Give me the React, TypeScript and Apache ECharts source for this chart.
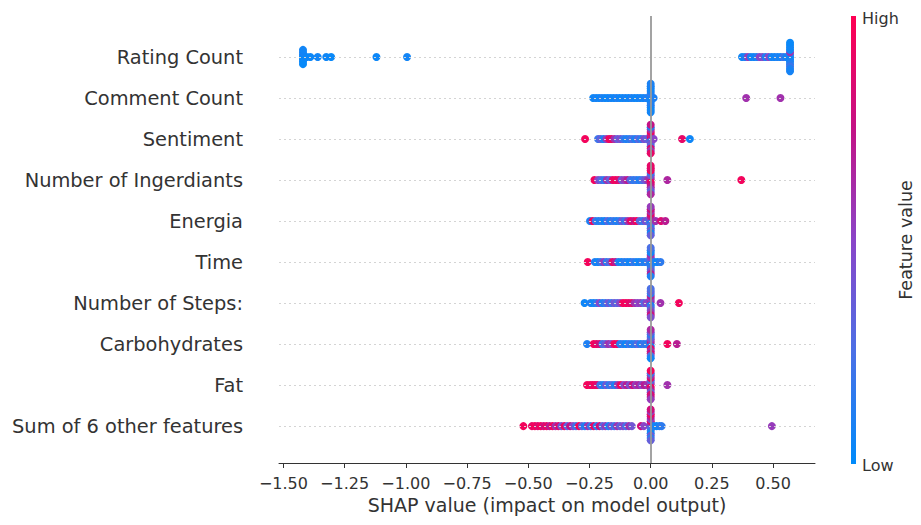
import React, { useEffect, useRef } from 'react';
import * as echarts from 'echarts';

// Feature names, bottom row (index 0) to top row (index 9)
const featureNames = [
  'Sum of 6 other features',
  'Fat',
  'Carbohydrates',
  'Number of Steps:',
  'Time',
  'Energia',
  'Number of Ingerdiants',
  'Sentiment',
  'Comment Count',
  'Rating Count',
];
const rowTicks = [0, 1, 2, 3, 4, 5, 6, 7, 8, 9];
const xTicks = [-1.5, -1.25, -1.0, -0.75, -0.5, -0.25, 0, 0.25, 0.5];

// [SHAP value, normalised feature value (0 = low, 1 = high)]
type P = [number, number];

const ratingCount: P[] = [
  [-1.42, 0.02], [-1.42, 0.05], [-1.42, 0.03], [-1.42, 0.08], [-1.42, 0.04], [-1.42, 0.06], [-1.42, 0.02],
  [-1.405, 0.05], [-1.39, 0.04], [-1.36, 0.06], [-1.325, 0.05], [-1.305, 0.03], [-1.12, 0.04], [-0.995, 0.06],
  [0.373, 0.05], [0.385, 0.1], [0.397, 0.55], [0.409, 0.08], [0.421, 0.05], [0.433, 0.1], [0.445, 0.5],
  [0.457, 0.45], [0.469, 0.1], [0.481, 0.5], [0.493, 0.08], [0.505, 0.05], [0.517, 0.1], [0.529, 0.06],
  [0.541, 0.2], [0.553, 0.08],
  [0.569, 0.05], [0.569, 0.1], [0.569, 0.03], [0.569, 0.6], [0.569, 0.08], [0.569, 0.05], [0.569, 0.12],
  [0.569, 0.04], [0.569, 0.2], [0.569, 0.06], [0.569, 0.1], [0.569, 0.03], [0.569, 0.07],
];

const commentCount: P[] = [
  [-0.235, 0.05], [-0.223, 0.08], [-0.211, 0.05], [-0.199, 0.1], [-0.187, 0.06], [-0.175, 0.05], [-0.163, 0.08],
  [-0.151, 0.05], [-0.139, 0.1], [-0.127, 0.06], [-0.115, 0.05], [-0.103, 0.08], [-0.091, 0.05], [-0.079, 0.1],
  [-0.067, 0.06], [-0.055, 0.05], [-0.043, 0.08], [-0.031, 0.05], [-0.019, 0.1],
  [0, 0.05], [0, 0.1], [0, 0.06], [0, 0.15], [0, 0.04], [0, 0.08], [0, 0.12],
  [0, 0.05], [0, 0.1], [0, 0.07], [0, 0.03], [0, 0.09], [0, 0.06],
  [0.012, 0.1], [0.39, 0.6], [0.53, 0.6],
];

const sentiment: P[] = [
  [-0.268, 0.95], [-0.215, 0.2], [-0.205, 0.35], [-0.193, 0.1], [-0.181, 0.55], [-0.17, 0.95], [-0.16, 0.9],
  [-0.148, 0.6], [-0.136, 0.35], [-0.124, 0.45], [-0.112, 0.2], [-0.1, 0.1], [-0.088, 0.15], [-0.076, 0.25],
  [-0.064, 0.1], [-0.052, 0.3], [-0.04, 0.15], [-0.028, 0.45], [-0.016, 0.35],
  [0, 0.5], [0, 0.9], [0, 0.2], [0, 0.7], [0, 0.4], [0, 0.95], [0, 0.3],
  [0, 0.6], [0, 0.85], [0, 0.1], [0, 0.55], [0, 0.75], [0, 0.9],
  [0.012, 0.5], [0.128, 0.9], [0.16, 0.05],
];

const ingredients: P[] = [
  [-0.23, 0.95], [-0.215, 0.5], [-0.203, 0.3], [-0.191, 0.15], [-0.179, 0.6], [-0.167, 0.35], [-0.155, 0.9],
  [-0.143, 0.95], [-0.131, 0.85], [-0.119, 0.4], [-0.107, 0.55], [-0.095, 0.7], [-0.083, 0.3], [-0.071, 0.15],
  [-0.059, 0.2], [-0.047, 0.1], [-0.035, 0.25], [-0.023, 0.4], [-0.011, 0.6],
  [0, 0.9], [0, 0.6], [0, 0.95], [0, 0.4], [0, 0.8], [0, 0.2], [0, 0.7],
  [0, 0.95], [0, 0.5], [0, 0.85], [0, 0.3], [0, 0.9], [0, 0.65],
  [0.068, 0.65], [0.37, 0.95],
];

const energia: P[] = [
  [-0.248, 0.1], [-0.237, 0.95], [-0.225, 0.2], [-0.213, 0.1], [-0.201, 0.15], [-0.189, 0.05], [-0.177, 0.3],
  [-0.165, 0.1], [-0.153, 0.2], [-0.141, 0.1], [-0.129, 0.15], [-0.117, 0.4], [-0.105, 0.2], [-0.093, 0.6],
  [-0.081, 0.9], [-0.069, 0.75], [-0.057, 0.95], [-0.045, 0.3], [-0.033, 0.2], [-0.021, 0.45], [-0.009, 0.3],
  [0, 0.2], [0, 0.5], [0, 0.1], [0, 0.7], [0, 0.3], [0, 0.9], [0, 0.15],
  [0, 0.6], [0, 0.4], [0, 0.8], [0, 0.05], [0, 0.55], [0, 0.35],
  [0.02, 0.6], [0.042, 0.85], [0.06, 0.7],
];

const time: P[] = [
  [-0.257, 0.95], [-0.228, 0.1], [-0.216, 0.05], [-0.204, 0.2], [-0.192, 0.55], [-0.18, 0.15], [-0.168, 0.3],
  [-0.156, 0.9], [-0.144, 0.7], [-0.132, 0.1], [-0.12, 0.05], [-0.108, 0.15], [-0.096, 0.1], [-0.084, 0.05],
  [-0.072, 0.2], [-0.06, 0.1], [-0.048, 0.05], [-0.036, 0.15], [-0.024, 0.1], [-0.012, 0.2],
  [0, 0.1], [0, 0.3], [0, 0.05], [0, 0.5], [0, 0.15], [0, 0.6], [0, 0.2],
  [0, 0.05], [0, 0.4], [0, 0.1], [0, 0.7], [0, 0.25], [0, 0.1],
  [0.014, 0.1], [0.027, 0.05], [0.04, 0.15],
];

const steps: P[] = [
  [-0.27, 0.05], [-0.245, 0.1], [-0.233, 0.05], [-0.221, 0.15], [-0.209, 0.5], [-0.197, 0.1], [-0.185, 0.2],
  [-0.173, 0.4], [-0.161, 0.2], [-0.149, 0.4], [-0.137, 0.3], [-0.125, 0.5], [-0.113, 0.95], [-0.101, 0.95],
  [-0.089, 0.9], [-0.077, 0.85], [-0.065, 0.6], [-0.053, 0.5], [-0.041, 0.55], [-0.029, 0.3], [-0.017, 0.5],
  [0, 0.3], [0, 0.6], [0, 0.1], [0, 0.5], [0, 0.2], [0, 0.7], [0, 0.4],
  [0, 0.15], [0, 0.55], [0, 0.35], [0, 0.8], [0, 0.25], [0, 0.45],
  [0.04, 0.6], [0.115, 0.95],
];

const carbohydrates: P[] = [
  [-0.26, 0.1], [-0.233, 0.95], [-0.221, 0.9], [-0.209, 0.8], [-0.197, 0.2], [-0.185, 0.35], [-0.173, 0.6],
  [-0.161, 0.5], [-0.149, 0.95], [-0.137, 0.9], [-0.125, 0.1], [-0.113, 0.15], [-0.101, 0.05], [-0.089, 0.2],
  [-0.077, 0.1], [-0.065, 0.15], [-0.053, 0.3], [-0.041, 0.1], [-0.029, 0.2], [-0.017, 0.15],
  [0, 0.2], [0, 0.7], [0, 0.1], [0, 0.5], [0, 0.9], [0, 0.3], [0, 0.6],
  [0, 0.15], [0, 0.8], [0, 0.4], [0, 0.25], [0, 0.65], [0, 0.05],
  [0.068, 0.95], [0.107, 0.7],
];

const fat: P[] = [
  [-0.26, 0.95], [-0.248, 0.95], [-0.238, 0.9], [-0.228, 0.95], [-0.218, 0.85], [-0.206, 0.2], [-0.194, 0.1],
  [-0.182, 0.4], [-0.17, 0.15], [-0.158, 0.3], [-0.146, 0.1], [-0.134, 0.6], [-0.122, 0.95], [-0.11, 0.5],
  [-0.098, 0.7], [-0.086, 0.45], [-0.074, 0.8], [-0.062, 0.55], [-0.05, 0.65], [-0.038, 0.5], [-0.026, 0.7],
  [-0.014, 0.6],
  [0, 0.8], [0, 0.5], [0, 0.95], [0, 0.3], [0, 0.7], [0, 0.9], [0, 0.4],
  [0, 0.6], [0, 0.85], [0, 0.2], [0, 0.75], [0, 0.95], [0, 0.55],
  [0.068, 0.6],
];

const sumOther: P[] = [
  [-0.52, 0.95], [-0.485, 0.9], [-0.473, 0.95], [-0.461, 0.85], [-0.449, 0.95], [-0.437, 0.8], [-0.425, 0.9],
  [-0.413, 0.7], [-0.401, 0.95], [-0.389, 0.6], [-0.377, 0.85], [-0.365, 0.4], [-0.353, 0.9], [-0.341, 0.3],
  [-0.329, 0.75], [-0.317, 0.5], [-0.305, 0.2], [-0.293, 0.95], [-0.281, 0.35], [-0.269, 0.1], [-0.257, 0.6],
  [-0.245, 0.2], [-0.233, 0.9], [-0.221, 0.15], [-0.209, 0.8], [-0.197, 0.3], [-0.185, 0.55], [-0.173, 0.1],
  [-0.161, 0.45], [-0.149, 0.2], [-0.137, 0.6], [-0.125, 0.35], [-0.113, 0.5], [-0.101, 0.25], [-0.089, 0.6],
  [-0.077, 0.4],
  [-0.04, 0.8], [-0.028, 0.5],
  [0, 0.1], [0, 0.6], [0, 0.3], [0, 0.9], [0, 0.2], [0, 0.5], [0, 0.05],
  [0, 0.7], [0, 0.4], [0, 0.95], [0, 0.15], [0, 0.55], [0, 0.35], [0, 0.8],
  [0.012, 0.1], [0.024, 0.05], [0.036, 0.1], [0.045, 0.15],
  [0.495, 0.55],
];

const rowsData: P[][] = [
  sumOther, fat, carbohydrates, steps, time, energia, ingredients, sentiment, commentCount, ratingCount,
];

const colorStops = ['#008bfb', '#4b70e6', '#8a45c8', '#c41285', '#ff0052'];

// beeswarm layout: points sharing an x-bin are stacked alternately above/below the row
function swarm(points: P[], row: number): number[][] {
  const binWidth = 0.012;
  const step = 0.058;
  const layers = new Map<number, number>();
  return points.map(([x, f]) => {
    const b = Math.round(x / binWidth);
    const layer = layers.get(b) ?? 0;
    layers.set(b, layer + 1);
    const off = Math.ceil(layer / 2) * (layer % 2 === 0 ? -1 : 1) * step;
    return [x, row + off, f];
  });
}

const FONT = 'DejaVu Sans';

export default function App() {
  const ref = useRef<HTMLDivElement>(null);
  useEffect(() => {
    document.body.style.margin = '0';
    if (!ref.current) return;
    const chart = echarts.init(ref.current, null, { renderer: 'svg' });
    const points = rowsData.flatMap((pts, i) => swarm(pts, i));
    chart.setOption({
      animation: false,
      backgroundColor: '#ffffff',
      grid: { left: 279, right: 106, top: 16, bottom: 62, containLabel: false, outerBoundsMode: 'none' },
      xAxis: {
        type: 'value',
        min: -1.518,
        max: 0.671,
        name: 'SHAP value (impact on model output)',
        nameLocation: 'middle',
        nameGap: 32,
        nameTextStyle: { fontFamily: FONT, fontSize: 19, color: '#333333' },
        axisLine: { show: true, onZero: false, lineStyle: { color: '#333333', width: 1 } },
        axisTick: { show: true, length: 5, customValues: xTicks, lineStyle: { color: '#333333' } },
        axisLabel: {
          customValues: xTicks,
          margin: 12,
          fontFamily: FONT,
          fontSize: 16,
          color: '#333333',
          formatter: (v: number) => (v < 0 ? '\u2212' : '') + Math.abs(v).toFixed(2),
        },
        splitLine: { show: false },
      },
      yAxis: {
        type: 'value',
        min: -0.9,
        max: 10,
        axisLine: { show: false, onZero: false },
        axisTick: { show: false },
        splitLine: { show: false },
        axisLabel: {
          customValues: rowTicks,
          margin: 36,
          fontFamily: FONT,
          fontSize: 19.4,
          color: '#333333',
          formatter: (v: number) => featureNames[Math.round(v)] ?? '',
        },
      },
      visualMap: {
        type: 'continuous',
        show: false,
        min: 0,
        max: 1,
        dimension: 2,
        seriesIndex: 1,
        inRange: { color: colorStops },
      },
      series: [
        {
          type: 'scatter',
          data: [],
          z: 1,
          silent: true,
          markLine: {
            silent: true,
            symbol: ['none', 'none'],
            label: { show: false },
            data: [
              ...rowTicks.map((r) => ({
                yAxis: r,
                lineStyle: { color: '#d4d4d4', width: 1, type: [2, 3] },
              })),
              [
                { coord: [0, -0.9], lineStyle: { color: '#999999', width: 1.8, type: 'solid' } },
                { coord: [0, 10] },
              ],
            ],
          },
        },
        {
          type: 'scatter',
          data: points,
          z: 2,
          symbol: 'circle',
          symbolSize: 8,
          itemStyle: { opacity: 1 },
        },
      ],
      graphic: [
        {
          type: 'rect',
          shape: { x: 851, y: 16, width: 5, height: 448 },
          style: {
            fill: {
              type: 'linear',
              x: 0, y: 1, x2: 0, y2: 0,
              colorStops: colorStops.map((c, i) => ({ offset: i / (colorStops.length - 1), color: c })),
            },
          },
        },
        {
          type: 'text', x: 862, y: 18,
          style: { text: 'High', fontFamily: FONT, fontSize: 16, fill: '#333333', verticalAlign: 'middle', align: 'left' },
        },
        {
          type: 'text', x: 862, y: 465,
          style: { text: 'Low', fontFamily: FONT, fontSize: 16, fill: '#333333', verticalAlign: 'middle', align: 'left' },
        },
        {
          type: 'text', x: 906, y: 240, rotation: Math.PI / 2,
          style: { text: 'Feature value', fontFamily: FONT, fontSize: 17.5, fill: '#333333', verticalAlign: 'middle', align: 'center' },
        },
      ],
    });
    return () => chart.dispose();
  }, []);
  return <div ref={ref} style={{ width: 921, height: 525 }} />;
}
